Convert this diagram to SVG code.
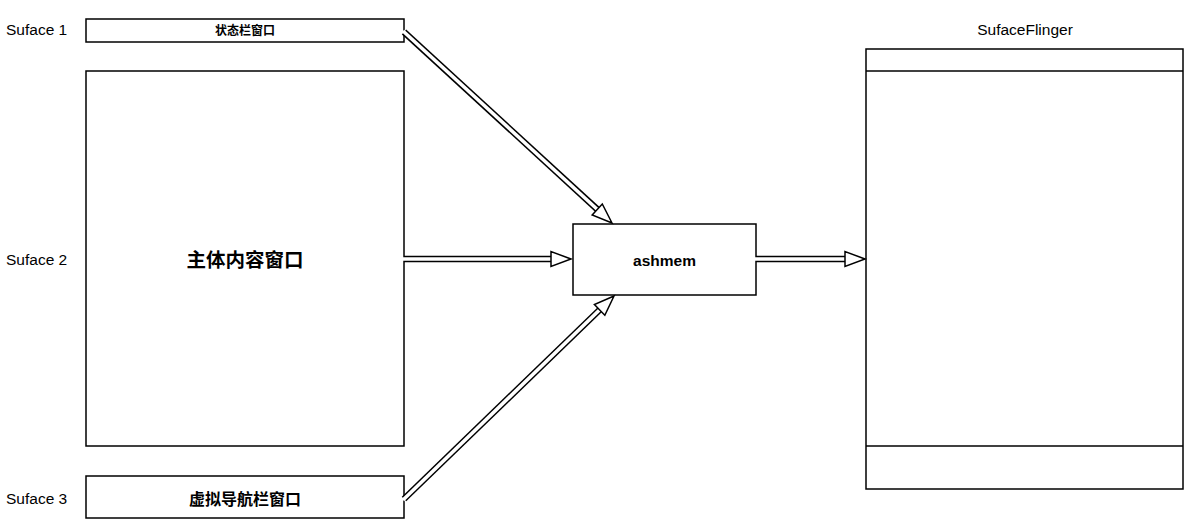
<svg xmlns="http://www.w3.org/2000/svg" width="1186" height="529" viewBox="0 0 1186 529">
<style>
.box{fill:#fff;stroke:#000;stroke-width:1.5}
.lbl{font-family:"Liberation Sans",Arial,sans-serif;font-size:15.5px;fill:#000}
.cjk{font-family:"Liberation Sans","Noto Sans CJK SC",sans-serif;font-weight:bold;fill:#000;text-anchor:middle}
.outer{stroke:#000;stroke-width:6.5;fill:none}
.inner{stroke:#fff;stroke-width:3.5;fill:none}
</style>
<defs>
<polygon id="head" points="0,0 -20,-7.5 -20,7.5" fill="#fff" stroke="#000" stroke-width="1.5" stroke-linejoin="miter"/>
</defs>
<rect width="1186" height="529" fill="#fff"/>
<g id="label-suface1"><text class="lbl" x="6" y="35">Suface 1</text></g>
<g id="label-suface2"><text class="lbl" x="6" y="265">Suface 2</text></g>
<g id="label-suface3"><text class="lbl" x="6" y="504">Suface 3</text></g>
<g id="statusbar"><rect class="box" x="86" y="19" width="318" height="23"/><text class="cjk" x="245" y="35" font-size="12">状态栏窗口</text></g>
<g id="main"><rect class="box" x="86" y="71" width="318" height="375"/><text class="cjk" x="245" y="267" font-size="19.5">主体内容窗口</text></g>
<g id="navbar"><rect class="box" x="86" y="476" width="318" height="42"/><text class="cjk" x="245" y="505" font-size="16">虚拟导航栏窗口</text></g>
<g id="ashmem"><rect class="box" x="573" y="224" width="183" height="71"/><text class="cjk" x="664.5" y="265.5" font-size="15.5">ashmem</text></g>
<g id="surfaceflinger"><text class="lbl" x="1025" y="35" text-anchor="middle" font-size="15">SufaceFlinger</text><rect class="box" x="866" y="49" width="317" height="440"/><line x1="866" y1="71" x2="1183" y2="71" stroke="#000" stroke-width="1.5"/><line x1="866" y1="446" x2="1183" y2="446" stroke="#000" stroke-width="1.5"/></g>
<g id="connectors">
<g id="c1"><line class="outer" x1="404" y1="32" x2="597.5" y2="209.5"/><line class="inner" x1="403" y1="31" x2="598.5" y2="210.5"/><use href="#head" transform="translate(612,223) rotate(42.4)"/></g>
<g id="c2"><line class="outer" x1="404" y1="259" x2="551" y2="259"/><line class="inner" x1="403" y1="259" x2="552" y2="259"/><use href="#head" transform="translate(571,259)"/></g>
<g id="c3"><line class="outer" x1="404" y1="499" x2="600" y2="309.5"/><line class="inner" x1="403" y1="500" x2="601" y2="308.5"/><use href="#head" transform="translate(614,296) rotate(-44)"/></g>
<g id="c4"><line class="outer" x1="756" y1="259" x2="845" y2="259"/><line class="inner" x1="755" y1="259" x2="846" y2="259"/><use href="#head" transform="translate(865,259)"/></g>
</g>
</svg>
